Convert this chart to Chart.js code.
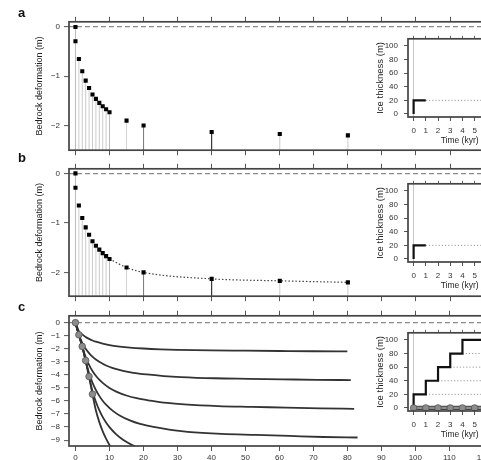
<!DOCTYPE html>
<html><head><meta charset="utf-8">
<script src="https://cdn.jsdelivr.net/npm/chart.js@4"></script>
<style>
html,body{margin:0;padding:0;background:#fff;}
#wrap{position:relative;width:481px;height:460px;overflow:hidden;background:#fff;}
canvas{position:absolute;}
.pl{position:absolute;font:bold 13px 'Liberation Sans',Arial,sans-serif;line-height:13px;color:#111;}
</style></head>
<body>
<div id="wrap">
  <canvas id="pa"></canvas>
  <canvas id="pb"></canvas>
  <canvas id="pc"></canvas>
  <canvas id="ia"></canvas>
  <canvas id="ib"></canvas>
  <canvas id="ic"></canvas>
  <div class="pl" style="left:18px;top:6px;">a</div>
  <div class="pl" style="left:18px;top:151px;">b</div>
  <div class="pl" style="left:18px;top:300px;">c</div>
</div>
<script>
// ---------------- DATA ----------------
// panels a & b: single 20 m load step, bedrock response (m) at sample times (kyr)
const sampleTimes = [0,0,1,2,3,4,5,6,7,8,9,10,15,20,40,60,80];
const deformation = [0,-0.29,-0.65,-0.90,-1.09,-1.24,-1.37,-1.46,-1.54,-1.61,-1.67,-1.73,-1.90,-2.00,-2.13,-2.17,-2.20];
// panel b dotted fit through the later samples
const fitTimes = [10,15,20,40,60,80];
const fitDeform = [-1.73,-1.90,-2.00,-2.13,-2.17,-2.20];
// panel c: staircase loading responses
const stepTimes = [0,1,2,3,4,5];
const stepDeform = [0,-0.93,-1.82,-2.90,-4.13,-5.48];
const c1T = [0,1,2,3,4,5,6,8,10,13,16,20,25,30,40,50,60,70,80];
const c1Y = [0,-0.65,-0.90,-1.09,-1.24,-1.37,-1.46,-1.61,-1.72,-1.83,-1.91,-1.98,-2.04,-2.08,-2.13,-2.15,-2.17,-2.19,-2.20];
const c2T = [0,1,2,3,4,5,6,7,9,11,14,17,21,26,31,41,51,61,71,81];
const c2Y = [0,-0.93,-1.55,-1.99,-2.33,-2.61,-2.83,-3.00,-3.28,-3.48,-3.69,-3.84,-3.97,-4.09,-4.17,-4.26,-4.30,-4.34,-4.38,-4.40];
const c3T = [0,1,2,3,4,5,6,7,8,10,12,15,18,22,27,32,42,52,62,72,82];
const c3Y = [0,-0.93,-1.82,-2.64,-3.23,-3.70,-4.07,-4.37,-4.61,-5.00,-5.28,-5.58,-5.79,-5.97,-6.15,-6.26,-6.39,-6.45,-6.51,-6.57,-6.60];
const c4T = [0,1,2,3,4,5,6,7,8,9,11,13,16,19,23,28,33,43,53,63,73,83];
const c4Y = [0,-0.93,-1.82,-2.90,-3.88,-4.60,-5.16,-5.61,-5.98,-6.28,-6.76,-7.11,-7.49,-7.76,-7.99,-8.21,-8.36,-8.52,-8.60,-8.68,-8.76,-8.80];
const c5T = [0,1,2,3,4,5,6,7,8,9,10,12,14,17,20,24,30];
const c5Y = [0,-0.93,-1.82,-2.90,-4.13,-5.25,-6.06,-6.70,-7.22,-7.65,-8.00,-8.56,-8.97,-9.42,-9.74,-9.98,-10.30];
const c6T = [0,1,2,3,4,5,6,7,8,9,10,11,13];
const c6Y = [0,-0.93,-1.82,-2.90,-4.13,-5.48,-6.71,-7.60,-8.31,-8.89,-9.37,-9.76,-10.39];
// insets: ice thickness history (m) vs time (kyr)
const iceA_T = [0,0,1];
const iceA_H = [0,20,20];
const iceC_T = [0,0,1,1,2,2,3,3,4,4,6];
const iceC_H = [0,20,20,40,40,60,60,80,80,100,100];
const levelA_T = [1];
const levelA_H = [20];
const levelC_T = [1,2,3,4];
const levelC_H = [20,40,60,80];
const iceEnd = 9;
const icePointT = [0,1,2,3,4,5];
const icePointH = [0,0,0,0,0,0];
// ticks
const xTicks = [0,10,20,30,40,50,60,70,80,90,100,110,120];
const yTicksAB = [0,-1,-2];
const yTicksC = [0,-1,-2,-3,-4,-5,-6,-7,-8,-9];
const iceTicksX = [0,1,2,3,4,5,6,7,8];
const iceTicksY = [0,20,40,60,80,100];

// ---------------- STYLE ----------------
const FAM = "'Liberation Sans', Arial, Helvetica, sans-serif";
Chart.defaults.font.family = FAM;
Chart.defaults.color = '#333';
const stemColors = ['#bbb','#ccc','#ccc','#ccc','#ccc','#ccc','#ccc','#ccc','#ccc','#ccc','#ccc','#bbb','#d4d4d4','#777','#111','#ccc','#ccc'];
const fmt = v => v < 0 ? '\u2212' + Math.abs(v) : String(v);
const pts = (xs, ys) => xs.map((x, i) => ({x, y: ys[i]}));

function boxPlugin(fillWhite) {
  return {
    id: 'box',
    beforeDraw(chart) {
      if (!fillWhite) return;
      const {ctx, chartArea: a} = chart;
      ctx.save(); ctx.fillStyle = '#fff';
      ctx.fillRect(a.left, a.top, a.right - a.left, a.bottom - a.top);
      ctx.restore();
    },
    afterDatasetsDraw(chart) {
      const {ctx, chartArea: a} = chart;
      ctx.save(); ctx.strokeStyle = '#444'; ctx.lineWidth = 1.7;
      ctx.strokeRect(a.left, a.top, a.right - a.left, a.bottom - a.top);
      ctx.restore();
    }
  };
}

function mainPanel(id, boxTop, boxH, bottomH, yMin, yMax, yTicks, datasets, showX) {
  const cv = document.getElementById(id);
  const topH = 6;
  cv.width = 500; cv.height = topH + boxH + bottomH;
  cv.style.left = '0px'; cv.style.top = (boxTop - topH) + 'px';
  new Chart(cv, {
    type: 'scatter',
    data: {datasets},
    options: {
      responsive: false, animation: false, events: [],
      layout: {padding: 0},
      plugins: {legend: {display: false}, tooltip: {enabled: false}},
      scales: {
        x: {
          type: 'linear', position: 'bottom', min: -1.9, max: 123.5,
          afterBuildTicks: s => { s.ticks = xTicks.map(v => ({value: v})); },
          afterFit: s => { s.height = bottomH; },
          grid: {drawOnChartArea: false, drawTicks: true, tickLength: 5, color: '#555', lineWidth: 1},
          border: {display: false},
          ticks: {display: showX, font: {size: 8}, color: '#333', padding: 2, maxRotation: 0, autoSkip: false}
        },
        xt: {
          type: 'linear', axis: 'x', position: 'top', min: -1.9, max: 123.5,
          afterBuildTicks: s => { s.ticks = xTicks.map(v => ({value: v})); },
          afterFit: s => { s.height = topH; },
          grid: {drawOnChartArea: false, drawTicks: true, tickLength: 5, color: '#555', lineWidth: 1},
          border: {display: false},
          ticks: {display: false}
        },
        y: {
          type: 'linear', position: 'left', min: yMin, max: yMax,
          afterBuildTicks: s => { s.ticks = yTicks.map(v => ({value: v})); },
          afterFit: s => { s.width = 69; },
          grid: {drawOnChartArea: true, drawTicks: true, tickLength: 5,
                 color: c => (c.tick && c.tick.value === 0) ? '#8a8a8a' : 'rgba(0,0,0,0)',
                 tickColor: '#555', lineWidth: 1.2, tickWidth: 1},
          border: {display: false, dash: [5, 3]},
          ticks: {font: {size: 8}, color: '#333', padding: 4, callback: v => fmt(v), autoSkip: false},
          title: {display: true, text: 'Bedrock deformation (m)', font: {size: 9}, color: '#222',
                  padding: {top: 34.5, bottom: 0}}
        }
      }
    },
    plugins: [boxPlugin(false)]
  });
}

function stems(yFloor) {
  return sampleTimes.map((t, i) => ({
    data: [{x: t, y: yFloor}, {x: t, y: deformation[i]}],
    showLine: true, borderColor: stemColors[i], borderWidth: 1, pointRadius: 0
  }));
}
const squares = () => ({
  data: pts(sampleTimes, deformation), showLine: false,
  pointStyle: 'rect', pointRadius: 2.9, backgroundColor: '#000', borderColor: '#000', borderWidth: 0
});

// panel a
mainPanel('pa', 19, 133, 7, -2.5, 0.104, yTicksAB, [squares(), ...stems(-2.5)], false);
// panel b
mainPanel('pb', 166, 132, 7, -2.48, 0.092, yTicksAB, [
  squares(),
  {data: pts(fitTimes, fitDeform), showLine: true, borderColor: '#444', borderWidth: 1.2,
   borderDash: [1.5, 2], pointRadius: 0, cubicInterpolationMode: 'monotone'},
  ...stems(-2.48)
], false);
// panel c
const curve = (xs, ys) => ({data: pts(xs, ys), showLine: true, borderColor: '#333', borderWidth: 1.8,
  pointRadius: 0, cubicInterpolationMode: 'monotone'});
mainPanel('pc', 313, 133, 14, -9.45, 0.525, yTicksC, [
  {data: pts(stepTimes, stepDeform), showLine: false, pointStyle: 'circle', pointRadius: 3.3,
   backgroundColor: '#8c8c8c', borderColor: '#555', borderWidth: 0.8},
  curve(c1T, c1Y), curve(c2T, c2Y), curve(c3T, c3Y), curve(c4T, c4Y), curve(c5T, c5Y), curve(c6T, c6Y)
], true);

// insets
function inset(id, boxTop, datasets) {
  const cv = document.getElementById(id);
  const leftW = 40, topH = 4, bottomH = 30, boxH = 85, width = 150;
  cv.width = width; cv.height = topH + boxH + bottomH;
  cv.style.left = (408 - leftW) + 'px'; cv.style.top = (boxTop - topH) + 'px';
  new Chart(cv, {
    type: 'scatter',
    data: {datasets},
    options: {
      responsive: false, animation: false, events: [],
      layout: {padding: 0},
      plugins: {legend: {display: false}, tooltip: {enabled: false}},
      scales: {
        x: {
          type: 'linear', position: 'bottom', min: -0.46, max: 8.0,
          afterBuildTicks: s => { s.ticks = iceTicksX.map(v => ({value: v})); },
          afterFit: s => { s.height = bottomH; },
          grid: {drawOnChartArea: true, drawTicks: true, tickLength: 4,
                 color: c => (c.tick && c.tick.value === 0) ? '#c8c8c8' : 'rgba(0,0,0,0)',
                 tickColor: '#555', lineWidth: 1, tickWidth: 1},
          border: {display: false},
          ticks: {font: {size: 8}, color: '#333', padding: 4.5, maxRotation: 0, autoSkip: false},
          title: {display: true, text: 'Time (kyr)', font: {size: 8.5}, color: '#222', padding: {top: 0, bottom: 1.6}}
        },
        xt: {
          type: 'linear', axis: 'x', position: 'top', min: -0.46, max: 8.0,
          afterBuildTicks: s => { s.ticks = iceTicksX.map(v => ({value: v})); },
          afterFit: s => { s.height = topH; },
          grid: {drawOnChartArea: false, drawTicks: true, tickLength: 3, color: '#666', lineWidth: 1},
          border: {display: false},
          ticks: {display: false}
        },
        y: {
          type: 'linear', position: 'left', min: -4.5, max: 110.5,
          afterBuildTicks: s => { s.ticks = iceTicksY.map(v => ({value: v})); },
          afterFit: s => { s.width = leftW; },
          grid: {drawOnChartArea: false, drawTicks: true, tickLength: 4, color: '#555', lineWidth: 1},
          border: {display: false},
          ticks: {font: {size: 8}, color: '#333', padding: 6, autoSkip: false},
          title: {display: true, text: 'Ice thickness (m)', font: {size: 9.5}, color: '#222',
                  padding: {top: 6.3, bottom: 0}}
        }
      }
    },
    plugins: [boxPlugin(true)]
  });
}
const stepLine = (xs, ys) => ({data: pts(xs, ys), showLine: true, borderColor: '#111', borderWidth: 2.2,
  pointRadius: 0, borderJoinStyle: 'miter'});
const levelLines = (ts, hs) => ts.map((t, i) => ({data: [{x: t, y: hs[i]}, {x: iceEnd, y: hs[i]}],
  showLine: true, borderColor: '#999', borderWidth: 1, borderDash: [1.2, 2], pointRadius: 0}));

inset('ia', 31.5, [stepLine(iceA_T, iceA_H), ...levelLines(levelA_T, levelA_H)]);
inset('ib', 177.3, [stepLine(iceA_T, iceA_H), ...levelLines(levelA_T, levelA_H)]);
inset('ic', 325.7, [
  {data: pts(icePointT, icePointH), showLine: false, pointStyle: 'circle', pointRadius: 3.3,
   backgroundColor: '#8c8c8c', borderColor: '#555', borderWidth: 0.8},
  {data: [{x: 0, y: 0}, {x: iceEnd, y: 0}], showLine: true, borderColor: '#8c8c8c', borderWidth: 2.2, pointRadius: 0},
  {data: [{x: 0, y: 0}, {x: iceEnd, y: 0}], showLine: true, borderColor: '#444', borderWidth: 4.2, pointRadius: 0},
  stepLine(iceC_T, iceC_H), ...levelLines(levelC_T, levelC_H)
]);
</script>
</body></html>
